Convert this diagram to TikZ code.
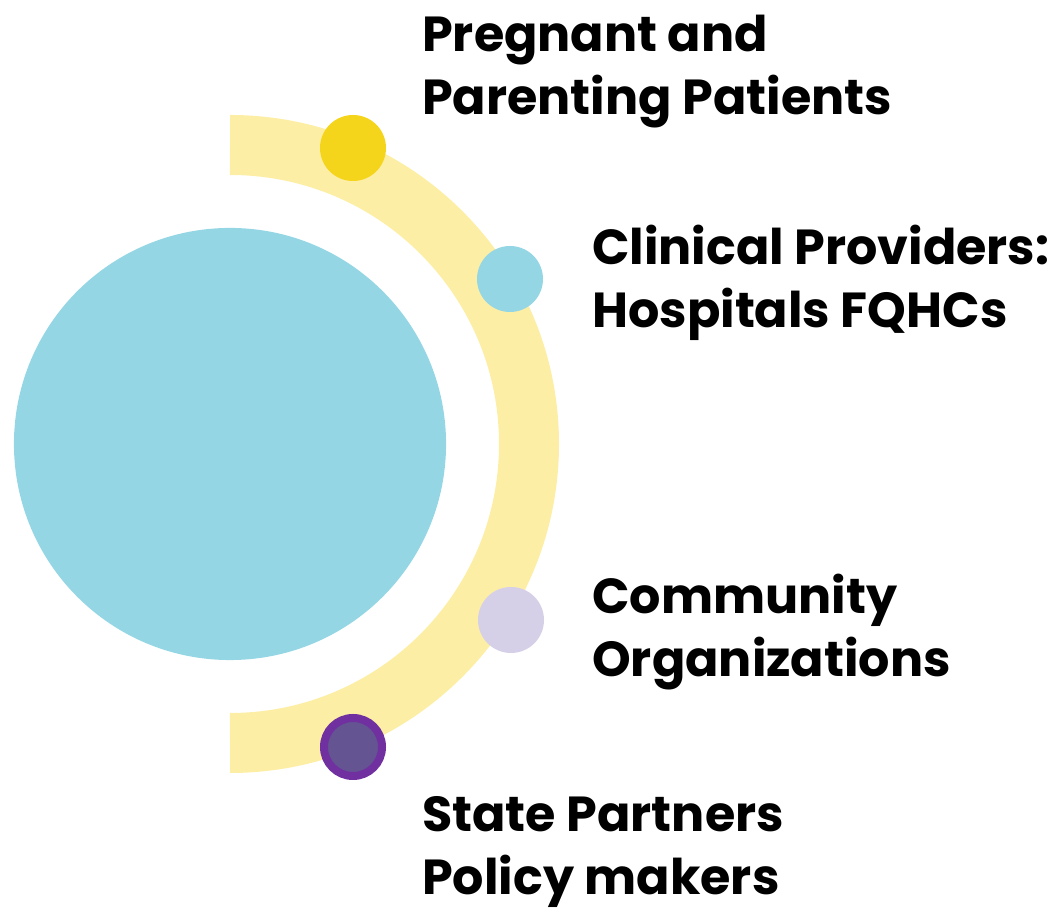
\documentclass[tikz,border=0pt]{standalone}
\usepackage{fontspec}
\setmainfont{Poppins}
\usepackage{xcolor}
\usepackage{tikz}
\usetikzlibrary{positioning}

\definecolor{ringyellow}{HTML}{FDEEA6}
\definecolor{dotyellow}{HTML}{F5D51C}
\definecolor{hubblue}{HTML}{95D6E5}
\definecolor{dotlavender}{HTML}{D6CFE8}
\definecolor{edgepurple}{HTML}{7030A0}
\definecolor{fillpurple}{HTML}{645592}

\begin{document}
\begin{tikzpicture}[
        x=0.025cm, y=0.025cm,
        ring/.style={draw=ringyellow, line width=1.5cm},
        hub/.style={circle, fill=hubblue, inner sep=0pt, minimum size=10.8cm},
        dot/.style={circle, inner sep=0pt, minimum size=1.65cm},
        ringdot/.style={circle, inner sep=0pt, minimum size=1.45cm, line width=0.2cm},
        grouplabel/.style={anchor=base west, align=left, inner sep=0pt,
            font=\fontsize{35}{45}\selectfont\bfseries}
    ]

    %=== Canvas ===%
    \useasboundingbox (0,0) rectangle (1054,913);

    %=== Hub and ring ===%
    \node[hub] (hub) at (230,469) {};
    \draw[ring] (230,469) ++(90:299) arc[start angle=90, end angle=-90, radius=299];

    %=== Group Macro ===%
    \newcommand{\group}[6]{
        \node[#4] (#1) at (#2,#3) {};
        \node[grouplabel] (#1-label) at #5 {#6};
    }

    %=== GROUPS ===%
    \group{patients}{353}{765}{dot, fill=dotyellow}{(422,798)}{Pregnant and\\Parenting Patients};

    \group{providers}{510}{634}{dot, fill=hubblue}{(592,585)}{Clinical Providers:\\Hospitals FQHCs};

    \group{community}{511}{293}{dot, fill=dotlavender}{(592,236)}{Community\\Organizations};

    \group{state}{353}{166}{ringdot, draw=edgepurple, fill=fillpurple}{(422,18)}{State Partners\\Policy makers};
\end{tikzpicture}
\end{document}
